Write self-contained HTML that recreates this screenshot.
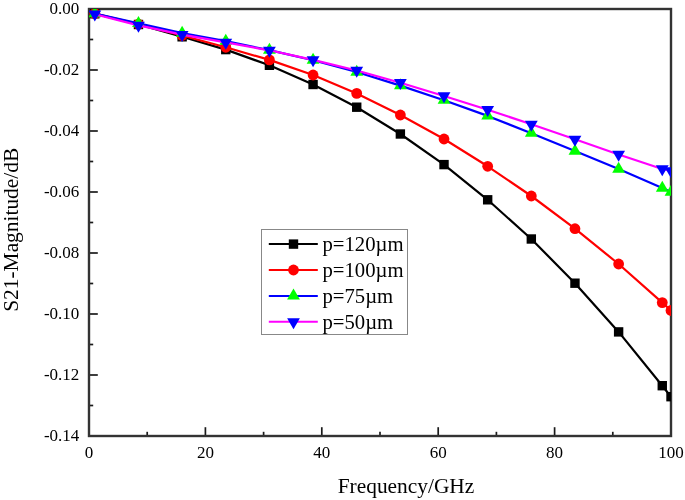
<!DOCTYPE html>
<html><head><meta charset="utf-8"><style>
html,body{margin:0;padding:0;background:#fff;}
svg{display:block;font-family:"Liberation Serif",serif;will-change:transform;filter:blur(0.3px);}
</style></head><body>
<svg width="685" height="500" viewBox="0 0 685 500">
<defs><clipPath id="pc"><rect x="89.0" y="9.0" width="582.0" height="427.0"/></clipPath></defs>
<g>
<line x1="147.20" y1="436.0" x2="147.20" y2="431.8" stroke="#1a1a1a" stroke-width="1.7"/>
<line x1="205.40" y1="436.0" x2="205.40" y2="427.2" stroke="#1a1a1a" stroke-width="1.7"/>
<line x1="263.60" y1="436.0" x2="263.60" y2="431.8" stroke="#1a1a1a" stroke-width="1.7"/>
<line x1="321.80" y1="436.0" x2="321.80" y2="427.2" stroke="#1a1a1a" stroke-width="1.7"/>
<line x1="380.00" y1="436.0" x2="380.00" y2="431.8" stroke="#1a1a1a" stroke-width="1.7"/>
<line x1="438.20" y1="436.0" x2="438.20" y2="427.2" stroke="#1a1a1a" stroke-width="1.7"/>
<line x1="496.40" y1="436.0" x2="496.40" y2="431.8" stroke="#1a1a1a" stroke-width="1.7"/>
<line x1="554.60" y1="436.0" x2="554.60" y2="427.2" stroke="#1a1a1a" stroke-width="1.7"/>
<line x1="612.80" y1="436.0" x2="612.80" y2="431.8" stroke="#1a1a1a" stroke-width="1.7"/>
<line x1="89.0" y1="39.50" x2="93.2" y2="39.50" stroke="#1a1a1a" stroke-width="1.7"/>
<line x1="89.0" y1="70.00" x2="97.8" y2="70.00" stroke="#1a1a1a" stroke-width="1.7"/>
<line x1="89.0" y1="100.50" x2="93.2" y2="100.50" stroke="#1a1a1a" stroke-width="1.7"/>
<line x1="89.0" y1="131.00" x2="97.8" y2="131.00" stroke="#1a1a1a" stroke-width="1.7"/>
<line x1="89.0" y1="161.50" x2="93.2" y2="161.50" stroke="#1a1a1a" stroke-width="1.7"/>
<line x1="89.0" y1="192.00" x2="97.8" y2="192.00" stroke="#1a1a1a" stroke-width="1.7"/>
<line x1="89.0" y1="222.50" x2="93.2" y2="222.50" stroke="#1a1a1a" stroke-width="1.7"/>
<line x1="89.0" y1="253.00" x2="97.8" y2="253.00" stroke="#1a1a1a" stroke-width="1.7"/>
<line x1="89.0" y1="283.50" x2="93.2" y2="283.50" stroke="#1a1a1a" stroke-width="1.7"/>
<line x1="89.0" y1="314.00" x2="97.8" y2="314.00" stroke="#1a1a1a" stroke-width="1.7"/>
<line x1="89.0" y1="344.50" x2="93.2" y2="344.50" stroke="#1a1a1a" stroke-width="1.7"/>
<line x1="89.0" y1="375.00" x2="97.8" y2="375.00" stroke="#1a1a1a" stroke-width="1.7"/>
<line x1="89.0" y1="405.50" x2="93.2" y2="405.50" stroke="#1a1a1a" stroke-width="1.7"/>
<rect x="89.0" y="9.0" width="582.0" height="427.0" fill="none" stroke="#333" stroke-width="2.4"/>
</g>
<g clip-path="url(#pc)">
<polyline points="94.82,13.80 138.47,24.50 182.12,36.80 225.77,49.60 269.42,65.30 313.07,84.50 356.72,107.20 400.37,134.00 444.02,164.60 487.67,199.80 531.32,239.00 574.97,283.20 618.62,331.90 662.27,385.70 671.00,396.70" fill="none" stroke="#000" stroke-width="2.2" stroke-linejoin="round"/>
<rect x="90.12" y="9.10" width="9.4" height="9.4" fill="#000"/>
<rect x="133.77" y="19.80" width="9.4" height="9.4" fill="#000"/>
<rect x="177.42" y="32.10" width="9.4" height="9.4" fill="#000"/>
<rect x="221.07" y="44.90" width="9.4" height="9.4" fill="#000"/>
<rect x="264.72" y="60.60" width="9.4" height="9.4" fill="#000"/>
<rect x="308.37" y="79.80" width="9.4" height="9.4" fill="#000"/>
<rect x="352.02" y="102.50" width="9.4" height="9.4" fill="#000"/>
<rect x="395.67" y="129.30" width="9.4" height="9.4" fill="#000"/>
<rect x="439.32" y="159.90" width="9.4" height="9.4" fill="#000"/>
<rect x="482.97" y="195.10" width="9.4" height="9.4" fill="#000"/>
<rect x="526.62" y="234.30" width="9.4" height="9.4" fill="#000"/>
<rect x="570.27" y="278.50" width="9.4" height="9.4" fill="#000"/>
<rect x="613.92" y="327.20" width="9.4" height="9.4" fill="#000"/>
<rect x="657.57" y="381.00" width="9.4" height="9.4" fill="#000"/>
<rect x="666.30" y="392.00" width="9.4" height="9.4" fill="#000"/>
<polyline points="94.82,13.60 138.47,24.10 182.12,35.50 225.77,47.30 269.42,59.90 313.07,75.00 356.72,93.40 400.37,115.00 444.02,139.00 487.67,166.30 531.32,196.00 574.97,228.70 618.62,264.00 662.27,302.60 671.00,310.50" fill="none" stroke="#f00" stroke-width="2.2" stroke-linejoin="round"/>
<circle cx="94.82" cy="13.60" r="5.4" fill="#f00"/>
<circle cx="138.47" cy="24.10" r="5.4" fill="#f00"/>
<circle cx="182.12" cy="35.50" r="5.4" fill="#f00"/>
<circle cx="225.77" cy="47.30" r="5.4" fill="#f00"/>
<circle cx="269.42" cy="59.90" r="5.4" fill="#f00"/>
<circle cx="313.07" cy="75.00" r="5.4" fill="#f00"/>
<circle cx="356.72" cy="93.40" r="5.4" fill="#f00"/>
<circle cx="400.37" cy="115.00" r="5.4" fill="#f00"/>
<circle cx="444.02" cy="139.00" r="5.4" fill="#f00"/>
<circle cx="487.67" cy="166.30" r="5.4" fill="#f00"/>
<circle cx="531.32" cy="196.00" r="5.4" fill="#f00"/>
<circle cx="574.97" cy="228.70" r="5.4" fill="#f00"/>
<circle cx="618.62" cy="264.00" r="5.4" fill="#f00"/>
<circle cx="662.27" cy="302.60" r="5.4" fill="#f00"/>
<circle cx="671.00" cy="310.50" r="5.4" fill="#f00"/>
<polyline points="94.82,13.50 138.47,23.40 182.12,33.10 225.77,41.20 269.42,50.20 313.07,60.20 356.72,72.00 400.37,85.60 444.02,100.20 487.67,115.90 531.32,133.20 574.97,151.00 618.62,169.00 662.27,188.00 671.00,192.00" fill="none" stroke="#00f" stroke-width="2.2" stroke-linejoin="round"/>
<polygon points="94.82,6.17 88.42,17.17 101.22,17.17" fill="#0f0"/>
<polygon points="138.47,16.07 132.07,27.07 144.87,27.07" fill="#0f0"/>
<polygon points="182.12,25.77 175.72,36.77 188.52,36.77" fill="#0f0"/>
<polygon points="225.77,33.87 219.37,44.87 232.17,44.87" fill="#0f0"/>
<polygon points="269.42,42.87 263.02,53.87 275.82,53.87" fill="#0f0"/>
<polygon points="313.07,52.87 306.67,63.87 319.47,63.87" fill="#0f0"/>
<polygon points="356.72,64.67 350.32,75.67 363.12,75.67" fill="#0f0"/>
<polygon points="400.37,78.27 393.97,89.27 406.77,89.27" fill="#0f0"/>
<polygon points="444.02,92.87 437.62,103.87 450.42,103.87" fill="#0f0"/>
<polygon points="487.67,108.57 481.27,119.57 494.07,119.57" fill="#0f0"/>
<polygon points="531.32,125.87 524.92,136.87 537.72,136.87" fill="#0f0"/>
<polygon points="574.97,143.67 568.57,154.67 581.37,154.67" fill="#0f0"/>
<polygon points="618.62,161.67 612.22,172.67 625.02,172.67" fill="#0f0"/>
<polygon points="662.27,180.67 655.87,191.67 668.67,191.67" fill="#0f0"/>
<polygon points="671.00,184.67 664.60,195.67 677.40,195.67" fill="#0f0"/>
<polyline points="94.82,14.20 138.47,25.40 182.12,34.60 225.77,42.40 269.42,50.30 313.07,59.90 356.72,70.50 400.37,82.70 444.02,96.00 487.67,109.70 531.32,124.30 574.97,139.30 618.62,154.50 662.27,169.00 671.00,171.00" fill="none" stroke="#f0f" stroke-width="2.2" stroke-linejoin="round"/>
<polygon points="88.42,10.53 101.22,10.53 94.82,21.53" fill="#00f"/>
<polygon points="132.07,21.73 144.87,21.73 138.47,32.73" fill="#00f"/>
<polygon points="175.72,30.93 188.52,30.93 182.12,41.93" fill="#00f"/>
<polygon points="219.37,38.73 232.17,38.73 225.77,49.73" fill="#00f"/>
<polygon points="263.02,46.63 275.82,46.63 269.42,57.63" fill="#00f"/>
<polygon points="306.67,56.23 319.47,56.23 313.07,67.23" fill="#00f"/>
<polygon points="350.32,66.83 363.12,66.83 356.72,77.83" fill="#00f"/>
<polygon points="393.97,79.03 406.77,79.03 400.37,90.03" fill="#00f"/>
<polygon points="437.62,92.33 450.42,92.33 444.02,103.33" fill="#00f"/>
<polygon points="481.27,106.03 494.07,106.03 487.67,117.03" fill="#00f"/>
<polygon points="524.92,120.63 537.72,120.63 531.32,131.63" fill="#00f"/>
<polygon points="568.57,135.63 581.37,135.63 574.97,146.63" fill="#00f"/>
<polygon points="612.22,150.83 625.02,150.83 618.62,161.83" fill="#00f"/>
<polygon points="655.87,165.33 668.67,165.33 662.27,176.33" fill="#00f"/>
<polygon points="664.60,167.33 677.40,167.33 671.00,178.33" fill="#00f"/>
</g>
<g font-size="17" fill="#000">
<text transform="translate(89.00,458.3)" text-anchor="middle">0</text>
<text transform="translate(205.40,458.3)" text-anchor="middle">20</text>
<text transform="translate(321.80,458.3)" text-anchor="middle">40</text>
<text transform="translate(438.20,458.3)" text-anchor="middle">60</text>
<text transform="translate(554.60,458.3)" text-anchor="middle">80</text>
<text transform="translate(671.00,458.3)" text-anchor="middle">100</text>
<text transform="translate(79.3,14.40)" text-anchor="end">0.00</text>
<text transform="translate(79.3,75.40)" text-anchor="end">-0.02</text>
<text transform="translate(79.3,136.40)" text-anchor="end">-0.04</text>
<text transform="translate(79.3,197.40)" text-anchor="end">-0.06</text>
<text transform="translate(79.3,258.40)" text-anchor="end">-0.08</text>
<text transform="translate(79.3,319.40)" text-anchor="end">-0.10</text>
<text transform="translate(79.3,380.40)" text-anchor="end">-0.12</text>
<text transform="translate(79.3,441.40)" text-anchor="end">-0.14</text>
</g>
<text x="406" y="493" font-size="21.4" text-anchor="middle">Frequency/GHz</text>
<text transform="translate(17.8,229.8) rotate(-90)" font-size="21.4" text-anchor="middle">S21-Magnitude/dB</text>
<rect x="261.5" y="229.5" width="146.0" height="105.0" fill="#fff" stroke="#888" stroke-width="1"/>
<line x1="268.8" y1="244.1" x2="317.8" y2="244.1" stroke="#000" stroke-width="2"/>
<rect x="288.80" y="239.40" width="9.4" height="9.4" fill="#000"/>
<text x="322.5" y="251.10" font-size="20.7">p=120µm</text>
<line x1="268.8" y1="270.0" x2="317.8" y2="270.0" stroke="#f00" stroke-width="2"/>
<circle cx="293.50" cy="270.00" r="5.4" fill="#f00"/>
<text x="322.5" y="277.00" font-size="20.7">p=100µm</text>
<line x1="268.8" y1="295.9" x2="317.8" y2="295.9" stroke="#00f" stroke-width="2"/>
<polygon points="293.50,288.57 287.10,299.57 299.90,299.57" fill="#0f0"/>
<text x="322.5" y="302.90" font-size="20.7">p=75µm</text>
<line x1="268.8" y1="321.8" x2="317.8" y2="321.8" stroke="#f0f" stroke-width="2"/>
<polygon points="287.10,318.13 299.90,318.13 293.50,329.13" fill="#00f"/>
<text x="322.5" y="328.80" font-size="20.7">p=50µm</text>
</svg>
</body></html>
